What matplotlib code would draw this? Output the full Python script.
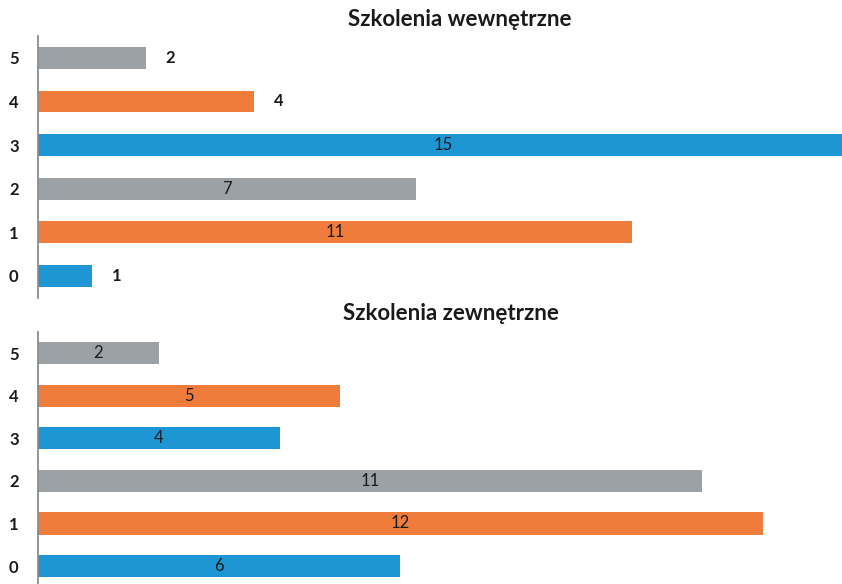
import matplotlib
matplotlib.use("Agg")
import matplotlib.pyplot as plt

categories = ["0", "1", "2", "3", "4", "5"]
internal_values = [1, 11, 7, 15, 4, 2]
external_values = [6, 12, 11, 4, 5, 2]
titles = ["Szkolenia wewnętrzne", "Szkolenia zewnętrzne"]

blue = "#1E96D4"
orange = "#F07C3C"
grey = "#9BA1A4"
bar_colors = [blue, orange, grey, blue, orange, grey]

plt.rcParams['font.family'] = ['Lato', 'DejaVu Sans']

fig = plt.figure(figsize=(8.42, 5.84), dpi=100)

# top axes
ax1 = fig.add_axes([38/842, 1 - 297.6/584, 1 - 38/842, 261.6/584])
# bottom axes
ax2 = fig.add_axes([38/842, 0, 1 - 38/842, (584 - 331.7)/584])

def style(ax, xmax, ylo, bh, vals, outside, title, title_x, title_y):
    y = list(range(len(categories)))
    ax.barh(y, vals, height=bh, color=bar_colors, edgecolor='none')
    ax.set_xlim(0, xmax)
    ax.set_ylim(ylo, 5.5)
    ax.set_yticks(y)
    ax.set_yticklabels(categories, fontsize=12, fontweight='bold', color='#1a1a1a')
    ax.tick_params(axis='y', length=0, pad=14)
    ax.set_xticks([])
    for s in ['top', 'right', 'bottom']:
        ax.spines[s].set_visible(False)
    ax.spines['left'].set_color('#8c8c8c')
    ax.spines['left'].set_linewidth(1.3)
    for yi, v in zip(y, vals):
        if v in outside:
            ax.text(v + 0.45, yi, str(v), ha='center', va='center', fontsize=12,
                    fontweight='bold', color='#1a1a1a')
        else:
            ax.text(v / 2, yi, str(v), ha='center', va='center', fontsize=12,
                    color='#1a1a1a')
    fig.text(title_x / 842, 1 - title_y / 584, title, ha='center', va='center',
             fontsize=16, fontweight='bold', color='#1a1a1a')

style(ax1, (842 - 38) / 54.0, -0.5, 0.5, internal_values, {1, 2, 4}, titles[0], 460, 20)
style(ax2, (842 - 38) / 60.4, -0.42, 0.52, external_values, set(), titles[1], 451, 313)

fig.savefig("out.png", dpi=100)
